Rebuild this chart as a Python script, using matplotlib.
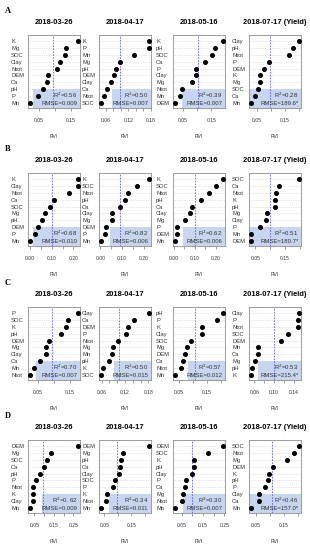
import numpy as np
import matplotlib
matplotlib.use("Agg")
from matplotlib import pyplot as plt
from matplotlib.patches import Rectangle

plt.rcParams['font.family'] = ['Liberation Sans', 'DejaVu Sans']

dates = ["2018-03-26", "2018-04-17", "2018-05-16", "2018-07-17 (Yield)"]
rows = ["A", "B", "C", "D"]

# variable names per panel, top to bottom
labels_A = [["K", "Mg", "SOC", "Clay", "Ntot", "DEM", "Ca", "pH", "P", "Mn"],
            ["K", "P", "Mn", "Mg", "pH", "DEM", "Clay", "Ca", "Ntot", "SOC"],
            ["K", "pH", "SOC", "Ca", "P", "Clay", "Mg", "Ntot", "Mn", "DEM"],
            ["Clay", "pH", "Ntot", "P", "DEM", "K", "Mg", "SOC", "Ca", "Mn"]]
labels_B = [["K", "Clay", "Ntot", "Ca", "SOC", "Mg", "pH", "DEM", "P", "Mn"],
            ["K", "SOC", "Ntot", "pH", "Ca", "Clay", "Mg", "DEM", "P", "Mn"],
            ["K", "SOC", "Ntot", "pH", "Ca", "Clay", "Mg", "P", "DEM", "Mn"],
            ["SOC", "Ca", "Ntot", "K", "pH", "Mg", "Clay", "P", "Mn", "DEM"]]
labels_C = [["P", "SOC", "K", "pH", "DEM", "Mg", "Clay", "Ca", "Mn", "Ntot"],
            ["Clay", "Ca", "DEM", "P", "Ntot", "Mg", "Mn", "pH", "K", "SOC"],
            ["pH", "P", "K", "Clay", "SOC", "Mg", "DEM", "Ca", "Ntot", "Mn"],
            ["Clay", "P", "Ntot", "SOC", "DEM", "Mn", "Ca", "Mg", "pH", "K"]]
labels_D = [["DEM", "Mg", "SOC", "Ca", "pH", "P", "Ntot", "K", "Clay", "Mn"],
            ["DEM", "Mg", "pH", "Ca", "Clay", "SOC", "P", "K", "Ntot", "Mn"],
            ["DEM", "SOC", "K", "pH", "Clay", "P", "Ca", "Mg", "Ntot", "Mn"],
            ["SOC", "Ntot", "Mg", "DEM", "K", "pH", "P", "Clay", "Ca", "Mn"]]

# relative variable importance, same order as labels
rvi_A = [[0.174, 0.136, 0.132, 0.115, 0.107, 0.077, 0.075, 0.061, 0.048, 0.021],
         [0.175, 0.174, 0.134, 0.099, 0.087, 0.082, 0.073, 0.063, 0.056, 0.047],
         [0.191, 0.164, 0.152, 0.126, 0.097, 0.097, 0.083, 0.046, 0.041, 0.022],
         [0.201, 0.180, 0.166, 0.093, 0.078, 0.062, 0.062, 0.055, 0.045, 0.030]]
rvi_B = [[0.221, 0.219, 0.179, 0.109, 0.093, 0.067, 0.056, 0.038, 0.021, 0.000],
         [0.225, 0.170, 0.126, 0.115, 0.091, 0.054, 0.052, 0.027, 0.022, 0.002],
         [0.235, 0.200, 0.170, 0.128, 0.087, 0.075, 0.055, 0.017, 0.015, 0.005],
         [0.197, 0.128, 0.118, 0.116, 0.115, 0.089, 0.086, 0.066, 0.035, 0.035]]
rvi_C = [[0.175, 0.145, 0.137, 0.123, 0.085, 0.074, 0.074, 0.057, 0.038, 0.025],
         [0.182, 0.143, 0.127, 0.123, 0.102, 0.088, 0.087, 0.078, 0.063, 0.058],
         [0.207, 0.184, 0.132, 0.130, 0.091, 0.077, 0.072, 0.065, 0.057, 0.035],
         [0.151, 0.149, 0.148, 0.128, 0.114, 0.068, 0.068, 0.061, 0.056, 0.053]]
rvi_D = [[0.274, 0.137, 0.114, 0.097, 0.080, 0.057, 0.045, 0.045, 0.041, 0.027],
         [0.216, 0.119, 0.112, 0.107, 0.106, 0.091, 0.081, 0.060, 0.057, 0.037],
         [0.244, 0.173, 0.108, 0.108, 0.100, 0.069, 0.064, 0.055, 0.052, 0.018],
         [0.204, 0.186, 0.160, 0.111, 0.098, 0.093, 0.081, 0.060, 0.060, 0.032]]

r2_A = ["0.56", "0.50", "0.39", "0.28"]
r2_B = ["0.68", "0.82", "0.62", "0.51"]
r2_C = ["0.70", "0.50", "0.57", "0.53"]
r2_D = ["0. 62", "0.34", "0.30", "0.46"]
rmse_A = ["0.009", "0.007", "0.007", "189.6*"]
rmse_B = ["0.010", "0.006", "0.006", "180.7*"]
rmse_C = ["0.007", "0.015", "0.012", "215.4*"]
rmse_D = ["0.009", "0.011", "0.007", "157.0*"]

labels = [labels_A, labels_B, labels_C, labels_D]
rvi = [rvi_A, rvi_B, rvi_C, rvi_D]
r2 = [r2_A, r2_B, r2_C, r2_D]
rmse = [rmse_A, rmse_B, rmse_C, rmse_D]

# layout / style
tick_step = [[0.05, 0.02, 0.05, 0.05], [0.05] * 4, [0.05, 0.02, 0.05, 0.02], [0.05] * 4]
label_every = [[2, 3, 2, 2], [2] * 4, [2, 3, 2, 2], [2] * 4]
shade_left = [[0.10, 0.25, 0.17, 0.0], [0.10, 0.21, 0.19, 0.0],
              [0.15, 0.29, 0.28, 0.17], [0.27, 0.19, 0.19, 0.0]]
col_left = [28, 99, 173, 249]
row_top = [35, 173, 307, 440]
W, H = 310, 550
pw, ph = 52, 73

fig = plt.figure(figsize=(W / 100, H / 100), dpi=100)

for i in range(4):
    fig.text(5 / W, 1 - (row_top[i] - 24) / H, rows[i], fontsize=6, fontweight="bold",
             family="Liberation Serif", ha="left", va="center")
    for j in range(4):
        ax = fig.add_axes([col_left[j] / W, 1 - (row_top[i] + ph) / H, pw / W, ph / H])
        v = np.array(rvi[i][j])
        n = len(v)
        y = np.arange(n, 0, -1)
        for yy in y:
            ax.axhline(yy, color="#cccccc", lw=0.5, ls=(0, (1, 1.5)), zorder=1)
        ax.add_patch(Rectangle((shade_left[i][j], 0), 1 - shade_left[i][j], 0.265,
                               transform=ax.transAxes, facecolor="#c7d5ee",
                               edgecolor="none", zorder=2))
        ax.axvline(v.mean(), color="#5a5aff", lw=0.6, ls=(0, (2, 1.5)), zorder=3)
        ax.plot(v, y, "o", color="black", ms=2.6, zorder=4)

        lo, hi = v.min(), v.max()
        r = hi - lo
        x0, x1 = lo - 0.04 * r, hi + 0.04 * r
        ax.set_xlim(x0, x1)
        ax.set_ylim(0.3, 10.85)

        st = tick_step[i][j]
        ticks = np.round(np.arange(np.ceil(x0 / st - 1e-6) * st, x1, st), 6) + 0.0
        ax.set_xticks(ticks)
        ax.set_xticklabels(["%.2f" % abs(t) if k % label_every[i][j] == 0 else ""
                            for k, t in enumerate(ticks)])
        ax.tick_params(axis="x", length=2, width=0.4, color="#555555", pad=5,
                       labelsize=3.6, labelcolor="#333333")
        ax.set_yticks(y)
        ax.set_yticklabels(labels[i][j], ha="left")
        ax.tick_params(axis="y", length=0, pad=12.2, labelsize=4.2, labelcolor="#333333")
        for s in ax.spines.values():
            s.set_color("#8c8c8c")
            s.set_linewidth(0.6)

        ax.set_title(dates[j], fontsize=5.4, fontweight="bold", pad=8)
        ax.set_xlabel("RVI", fontsize=3.6, labelpad=8, color="#333333")

        ax.text(0.95, 0.175, "R$^2$=" + r2[i][j], transform=ax.transAxes, ha="right",
                va="center", fontsize=4.3, color="#333333", zorder=5)
        ax.text(0.95, 0.065, "RMSE=" + rmse[i][j], transform=ax.transAxes, ha="right",
                va="center", fontsize=4.3, color="#333333", zorder=5)

fig.savefig("out.png", dpi=100)
